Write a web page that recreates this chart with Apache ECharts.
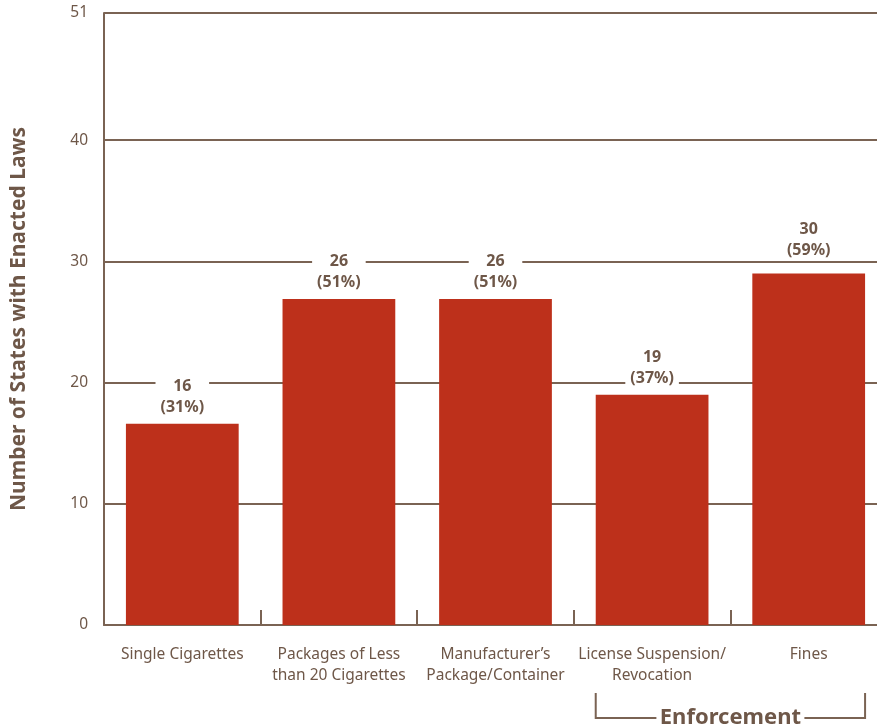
<!DOCTYPE html>
<html>
<head>
<meta charset="utf-8">
<script src="https://cdn.jsdelivr.net/npm/echarts@6/dist/echarts.min.js"></script>
<style>
html,body{margin:0;padding:0;background:#fff;}
#chart{width:877px;height:728px;}
</style>
</head>
<body>
<div id="chart"></div>
<script>
// Data
var categories = ['Single Cigarettes', 'Packages of Less\nthan 20 Cigarettes', 'Manufacturer\u2019s\nPackage/Container', 'License Suspension/\nRevocation', 'Fines'];
var barHeights = [16.6, 26.9, 26.9, 19.0, 29.0];
var countLabels = ['16', '26', '26', '19', '30'];
var pctLabels = ['(31%)', '(51%)', '(51%)', '(37%)', '(59%)'];
var yTickValues = [0, 10, 20, 30, 40, 50.5];
var yTickLabels = ['0', '10', '20', '30', '40', '51'];
var gridValues = [10, 20, 30, 40, 50.5];
var groupLabel = 'Enforcement';
var groupStart = 3, groupEnd = 4;

var BROWN = '#6e5748';
var LINE = '#7a6353';
var RED = '#bd301b';
var FONT = '"Noto Sans", sans-serif';

// The last label sits a little higher, clear of the 30 grid line
var barData = barHeights.map(function (v, i) {
  var item = { value: v };
  if (i === barHeights.length - 1) item.label = { offset: [0, -7] };
  return item;
});

var chart = echarts.init(document.getElementById('chart'));
var option = {
  animation: false,
  backgroundColor: '#fff',
  grid: { left: 104, top: 13, bottom: 103, right: -10, containLabel: false, outerBoundsMode: 'none' },
  xAxis: {
    type: 'category',
    data: categories,
    axisLine: { show: true, lineStyle: { color: LINE, width: 2 } },
    axisTick: { show: true, inside: true, length: 15, lineStyle: { color: LINE, width: 2 } },
    axisLabel: { color: BROWN, fontFamily: FONT, fontSize: 15.5, lineHeight: 21, margin: 19, interval: 0 },
    splitLine: { show: false }
  },
  yAxis: {
    type: 'value',
    min: 0,
    max: 50.5,
    interval: 10,
    name: 'Number of States with Enacted Laws',
    nameLocation: 'middle',
    nameGap: 74,
    nameTextStyle: { color: BROWN, fontFamily: FONT, fontSize: 21, fontWeight: 'bold' },
    axisLine: { show: true, lineStyle: { color: LINE, width: 2 } },
    axisTick: { show: false },
    splitLine: { show: false },
    axisLabel: {
      customValues: yTickValues,
      color: BROWN, fontFamily: FONT, fontSize: 15.5, margin: 16,
      formatter: function (v) {
        var i = yTickValues.indexOf(v);
        return i >= 0 ? yTickLabels[i] : '';
      }
    }
  },
  series: [
    {
      type: 'line',
      data: [],
      z: 1,
      silent: true,
      markLine: {
        silent: true,
        z: 1,
        symbol: 'none',
        label: { show: false },
        lineStyle: { color: LINE, width: 2, type: 'solid' },
        data: gridValues.map(function (v) { return { yAxis: v }; })
      }
    },
    {
      type: 'bar',
      z: 3,
      data: barData,
      barWidth: '72%',
      itemStyle: { color: RED },
      label: {
        show: true,
        position: 'top',
        distance: 6,
        color: BROWN,
        fontFamily: FONT,
        fontSize: 16,
        fontWeight: 'bold',
        lineHeight: 21,
        backgroundColor: '#fff',
        padding: [0, 5],
        formatter: function (p) { return countLabels[p.dataIndex] + '\n' + pctLabels[p.dataIndex]; }
      }
    }
  ]
};
chart.setOption(option);

// Bracket under the grouped categories
var x0 = chart.convertToPixel({ xAxisIndex: 0 }, groupStart);
var x1 = chart.convertToPixel({ xAxisIndex: 0 }, groupEnd);
var bandW = chart.convertToPixel({ xAxisIndex: 0 }, 1) - chart.convertToPixel({ xAxisIndex: 0 }, 0);
var halfBar = bandW * 0.72 / 2;
var bx0 = x0 - halfBar, bx1 = x1 + halfBar;
var by = chart.convertToPixel({ yAxisIndex: 0 }, 0) + 93;
var midX = (bx0 + bx1) / 2;
var textHalf = 74;
chart.setOption({
  graphic: [
    { type: 'polyline', shape: { points: [[bx0, by - 25], [bx0, by], [midX - textHalf, by]] }, style: { stroke: LINE, lineWidth: 2, fill: null } },
    { type: 'polyline', shape: { points: [[midX + textHalf, by], [bx1, by], [bx1, by - 25]] }, style: { stroke: LINE, lineWidth: 2, fill: null } },
    { type: 'text', x: midX, y: by, style: { text: groupLabel, fill: BROWN, font: 'bold 22px ' + FONT, textAlign: 'center', textVerticalAlign: 'middle' } }
  ]
});
</script>
</body>
</html>
